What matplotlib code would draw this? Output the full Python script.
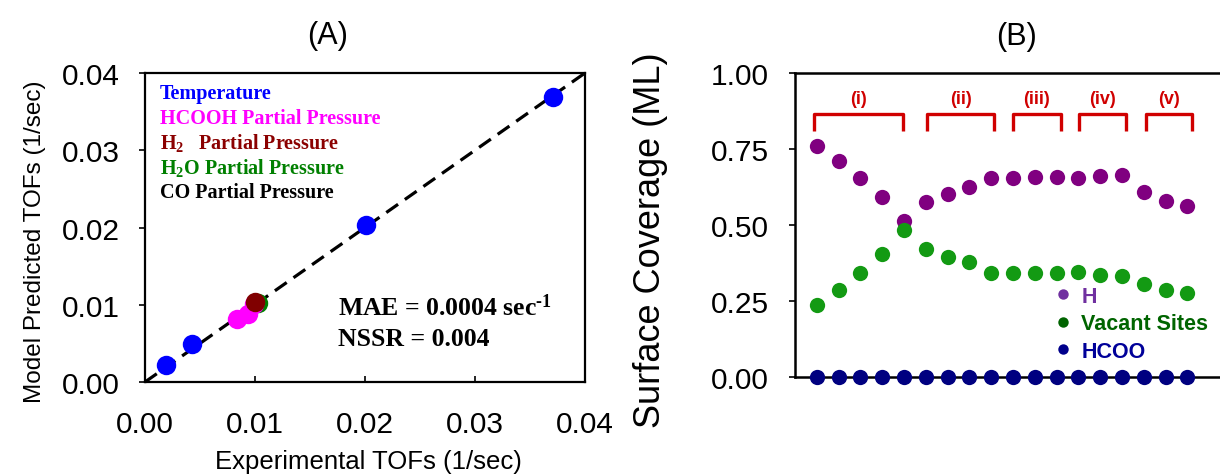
import matplotlib
matplotlib.use("Agg")
import matplotlib.pyplot as plt
from matplotlib.lines import Line2D

plt.rcParams['font.family'] = ['Liberation Sans', 'DejaVu Sans']
plt.rcParams['mathtext.fontset'] = 'custom'
plt.rcParams['mathtext.rm'] = 'Liberation Serif:bold'
plt.rcParams['mathtext.it'] = 'Liberation Serif:bold'
plt.rcParams['mathtext.bf'] = 'Liberation Serif:bold'

# ---- panel A data: experimental vs model TOFs (1/sec)
temp_exp = [0.0019, 0.0043, 0.0201, 0.0371]
temp_mod = [0.0022, 0.0049, 0.0203, 0.0369]
hcooh_exp = [0.0084, 0.0094, 0.0099]
hcooh_mod = [0.0082, 0.0088, 0.0101]
h2_exp = [0.0100]
h2_mod = [0.0103]
h2o_exp = [0.0103]
h2o_mod = [0.0102]
co_exp = [0.0101]
co_mod = [0.0102]
parity = [0.0, 0.04]

legend_labels = ["Temperature", "HCOOH Partial Pressure", r"H$_2$   Partial Pressure",
                 r"H$_2$O Partial Pressure", "CO Partial Pressure"]
legend_colors = ["#0000FF", "#FF00FF", "#8B0000", "#008000", "#000000"]

# ---- panel B data: surface coverage (ML)
condition = list(range(1, 19))
cov_H = [0.761, 0.712, 0.655, 0.593, 0.512, 0.575, 0.602, 0.624, 0.655,
         0.655, 0.657, 0.657, 0.655, 0.662, 0.664, 0.607, 0.580, 0.563]
cov_vac = [0.238, 0.287, 0.342, 0.405, 0.484, 0.421, 0.396, 0.377, 0.342,
           0.342, 0.341, 0.341, 0.344, 0.336, 0.333, 0.306, 0.287, 0.275]
cov_hcoo = [0.0] * 18

groups = ["(i)", "(ii)", "(iii)", "(iv)", "(v)"]
group_start = [0.85, 6.05, 10.0, 13.05, 16.1]
group_end = [4.95, 9.15, 12.2, 15.2, 18.2]
bracket_top = 0.865
bracket_bottom = 0.81

fig = plt.figure(figsize=(12.2, 4.77), dpi=100)

# ================= panel A
axA = fig.add_axes([145/1220, 1-383/477, 440/1220, 309/477])
axA.plot(parity, parity, color='black', lw=2.3, dashes=(4.5, 2.6), zorder=2, clip_on=False)
ms = 14
axA.plot(co_exp, co_mod, 'o', color='black', ms=ms, mec='none', zorder=3)
axA.plot(h2o_exp, h2o_mod, 'o', color='#008000', ms=ms, mec='none', zorder=3)
axA.plot(hcooh_exp, hcooh_mod, 'o', color='#FF00FF', ms=ms, mec='none', zorder=4)
axA.plot(h2_exp, h2_mod, 'o', color='#800000', ms=ms, mec='none', zorder=5)
axA.plot(temp_exp, temp_mod, 'o', color='#0000FF', ms=ms, mec='none', zorder=5, clip_on=False)

axA.set_xlim(0, 0.04)
axA.set_ylim(0, 0.04)
axA.set_xticks([0, 0.01, 0.02, 0.03, 0.04])
axA.set_yticks([0, 0.01, 0.02, 0.03, 0.04])
axA.set_xticklabels(["0.00", "0.01", "0.02", "0.03", "0.04"])
axA.set_yticklabels(["0.00", "0.01", "0.02", "0.03", "0.04"])
axA.tick_params(axis='y', direction='out', length=4, width=1.2, pad=14, labelsize=21.5)
axA.tick_params(axis='x', direction='in', length=4, width=1.2, pad=20, labelsize=21.5)
for s in axA.spines.values():
    s.set_linewidth(1.6)

for i, (lab, col) in enumerate(zip(legend_labels, legend_colors)):
    axA.text(15/440, 1 - (20 + 24.7*i)/309, lab, transform=axA.transAxes, color=col,
             family='Liberation Serif', weight='bold', fontsize=14.5, va='center', ha='left')
axA.text(193/440, 1 - 234/309, r"MAE = 0.0004 sec$^{\text{-1}}$", transform=axA.transAxes,
         family='Liberation Serif', weight='bold', fontsize=18.5, va='center', ha='left')
axA.text(193/440, 1 - 266/309, "NSSR = 0.004", transform=axA.transAxes,
         family='Liberation Serif', weight='bold', fontsize=18.5, va='center', ha='left')

fig.text(328/1220, 1-36/477, "(A)", fontsize=22, ha='center', va='center')
fig.text(368/1220, 1-462/477, "Experimental TOFs (1/sec)", fontsize=18.5, ha='center', va='center')
fig.text(35/1220, 1-242/477, "Model Predicted TOFs (1/sec)", fontsize=17.5, ha='center',
         va='center', rotation=90)

# ================= panel B
axB = fig.add_axes([795/1220, 1-378/477, 425/1220, 304/477])
msb = 11
axB.plot(condition, cov_H, 'o', color='#800080', ms=msb, mec='none', zorder=3)
axB.plot(condition, cov_vac, 'o', color='#139A13', ms=msb, mec='none', zorder=3)
axB.plot(condition, cov_hcoo, 'o', color='#000080', ms=msb, mec='none', zorder=4, clip_on=False)

for lab, x0, x1 in zip(groups, group_start, group_end):
    axB.plot([x0, x0, x1, x1], [bracket_bottom, bracket_top, bracket_top, bracket_bottom],
             color='#D00000', lw=2.4, solid_joinstyle='round', solid_capstyle='butt')
    axB.text((x0 + x1) / 2, 0.915, lab, color='#D00000', weight='bold', fontsize=13,
             ha='center', va='center')

axB.set_xlim(0, 19.5)
axB.set_ylim(0, 1)
axB.set_yticks([0, 0.25, 0.5, 0.75, 1.0])
axB.set_yticklabels(["0.00", "0.25", "0.50", "0.75", "1.00"])
axB.set_xticks([])
axB.tick_params(axis='y', direction='out', length=4, width=1.2, pad=15, labelsize=21.5)
axB.spines['right'].set_visible(False)
for s in ['left', 'top', 'bottom']:
    axB.spines[s].set_linewidth(1.8)

handles = [Line2D([], [], ls='none', marker='o', ms=7.5, mec='none', color='#7030A0'),
           Line2D([], [], ls='none', marker='o', ms=7.5, mec='none', color='#006400'),
           Line2D([], [], ls='none', marker='o', ms=7.5, mec='none', color='#00008B')]
axB.legend(handles, ["H", "Vacant Sites", "HCOO"], loc='upper left',
           bbox_to_anchor=(0.605, 0.30), frameon=False, borderpad=0, borderaxespad=0,
           handlelength=1, handletextpad=0.35, labelspacing=0.3,
           labelcolor=['#7030A0', '#006400', '#000099'],
           prop={'weight': 'bold', 'size': 15.5})

fig.text(1017/1220, 1-37/477, "(B)", fontsize=22, ha='center', va='center')
fig.text(650/1220, 1-240/477, "Surface Coverage (ML)", fontsize=26, ha='center',
         va='center', rotation=90)

fig.savefig("out.png", dpi=100)
